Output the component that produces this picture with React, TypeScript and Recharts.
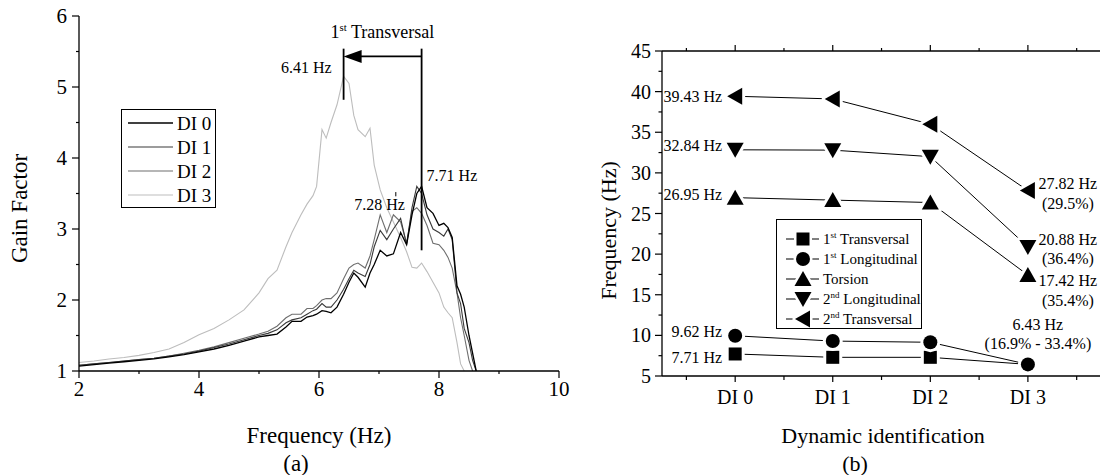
import React from 'react'
import {
  LineChart, Line, XAxis, YAxis, ReferenceLine, ReferenceDot, Legend, LabelList,
} from 'recharts'

const FONT = "'Liberation Serif', 'Times New Roman', serif"

// (a) gain factor curves
const freqs = [
  2.0, 2.25, 2.5, 2.75, 3.0, 3.25, 3.5, 3.75, 4.0, 4.25, 4.5, 4.75, 5.0,
  5.15, 5.3, 5.45, 5.55, 5.7, 5.8, 5.9, 5.96, 6.05, 6.12, 6.2, 6.3, 6.41,
  6.5, 6.58, 6.65, 6.77, 6.85, 6.92, 7.02, 7.13, 7.24, 7.36, 7.46, 7.55, 7.63,
  7.71, 7.8, 7.9, 8.0, 8.08, 8.15, 8.22, 8.3, 8.36, 8.42, 8.5, 8.56, 8.62,
]
const gainDI0 = [
  1.07, 1.09, 1.11, 1.13, 1.15, 1.17, 1.2, 1.23, 1.27, 1.31, 1.36, 1.42, 1.48,
  1.5, 1.52, 1.62, 1.7, 1.7, 1.76, 1.78, 1.8, 1.85, 1.84, 1.82, 1.9, 2.08,
  2.25, 2.38, 2.32, 2.18, 2.38, 2.5, 2.7, 2.62, 2.65, 2.95, 2.78, 3.2, 3.5,
  3.6, 3.3, 3.22, 3.05, 3.08, 3.02, 2.88, 2.2, 2.08, 1.9, 1.5, 1.25, 1.0,
]
const gainDI1 = [
  1.08, 1.1, 1.12, 1.14, 1.16, 1.18, 1.21, 1.24, 1.28, 1.33, 1.38, 1.44, 1.5,
  1.53, 1.58, 1.68, 1.72, 1.75, 1.8, 1.85, 1.87, 1.95, 1.9, 1.9, 2.0, 2.15,
  2.3, 2.42, 2.38, 2.33, 2.5, 2.75, 2.98, 2.85, 3.0, 3.15, 2.78, 3.3, 3.6,
  3.5, 3.2, 3.0, 2.95, 2.9, 3.0, 2.85, 2.1, 1.95, 1.6, 1.4, 1.15, 1.0,
]
const gainDI2 = [
  1.08, 1.1, 1.12, 1.14, 1.16, 1.18, 1.21, 1.25, 1.29, 1.34, 1.4, 1.46, 1.52,
  1.56, 1.63, 1.75, 1.8, 1.8, 1.88, 1.88, 1.92, 2.0, 2.02, 2.02, 2.1, 2.3,
  2.45, 2.5, 2.52, 2.45, 2.62, 2.85, 3.2, 2.95, 3.2, 3.1, 2.8, 3.25, 3.3,
  3.22, 3.05, 2.8, 2.78, 2.7, 2.6, 2.45, 2.1, 1.75, 1.5, 1.15, 1.0, null,
]
const gainDI3 = [
  1.12, 1.14, 1.17, 1.19, 1.22, 1.26, 1.31, 1.4, 1.51, 1.6, 1.72, 1.86, 2.1,
  2.3, 2.42, 2.75, 2.95, 3.2, 3.35, 3.47, 3.6, 4.4, 4.28, 4.5, 4.75, 5.15,
  5.05, 4.6, 4.4, 4.3, 4.42, 3.9, 3.55, 3.3, 3.1, 2.88, 2.68, 2.46, 2.45,
  2.52, 2.4, 2.25, 2.1, 1.9, 1.82, 1.75, 1.4, 1.1, 1.0, null, null, null,
]
const diNames = ['DI 0', 'DI 1', 'DI 2', 'DI 3']
const diColors = ['#000000', '#3a3a3a', '#6e6e6e', '#bdbdbd']
const gainXTicks = [2, 3, 4, 5, 6, 7, 8, 9, 10]
const gainYTicks = [1, 1.5, 2, 2.5, 3, 3.5, 4, 4.5, 5, 5.5, 6]

// (b) modal frequencies per identification
const stages = [0, 1, 2, 3]
const trans1 = [7.71, 7.3, 7.3, 6.43]
const long1 = [9.95, 9.3, 9.15, 6.43]
const torsion = [26.95, 26.65, 26.35, 17.42]
const long2 = [32.84, 32.8, 32.0, 20.88]
const trans2 = [39.43, 39.1, 36.0, 27.82]
const modeNames = ['1st Transversal', '1st Longitudinal', 'Torsion', '2nd Longitudinal', '2nd Transversal']
const stageTicks = [-0.5, 0, 0.5, 1, 1.5, 2, 2.5, 3, 3.5]
const freqTicks = [5, 7.5, 10, 12.5, 15, 17.5, 20, 22.5, 25, 27.5, 30, 32.5, 35, 37.5, 40, 42.5, 45]

const gainRows = freqs.map((f, i) => ({
  f, di0: gainDI0[i], di1: gainDI1[i], di2: gainDI2[i], di3: gainDI3[i],
}))
const modeRows = stages.map((s, i) => ({
  s, t1: trans1[i], l1: long1[i], tor: torsion[i], l2: long2[i], t2: trans2[i],
}))

const txt = { fill: '#000', style: { fontFamily: FONT } }

function GainXTick({ x, y, payload }: any) {
  const major = payload.value % 2 === 0
  return (
    <g>
      <line x1={x} y1={y} x2={x} y2={y + (major ? 7 : 3)} stroke="#000" strokeWidth={1.2} />
      {major && <text x={x} y={y + 25} textAnchor="middle" fontSize={21} {...txt}>{payload.value}</text>}
    </g>
  )
}

function GainYTick({ x, y, payload }: any) {
  const major = Number.isInteger(payload.value)
  return (
    <g>
      <line x1={x} y1={y} x2={x - (major ? 7 : 3)} y2={y} stroke="#000" strokeWidth={1.2} />
      {major && <text x={x - 12} y={y} dy="0.35em" textAnchor="end" fontSize={21} {...txt}>{payload.value}</text>}
    </g>
  )
}

function StageTick({ x, y, payload }: any) {
  const major = Number.isInteger(payload.value)
  return (
    <g>
      <line x1={x} y1={y} x2={x} y2={y + (major ? 6 : 4)} stroke="#000" strokeWidth={1.2} />
      {major && <text x={x} y={y + 28} textAnchor="middle" fontSize={20} {...txt}>{`DI ${payload.value}`}</text>}
    </g>
  )
}

function TopTick({ x, y, payload }: any) {
  const major = Number.isInteger(payload.value)
  return <line x1={x} y1={y} x2={x} y2={y - (major ? 6 : 3)} stroke="#000" strokeWidth={1.2} />
}

function FreqTick({ x, y, payload }: any) {
  const major = payload.value % 5 === 0
  return (
    <g>
      <line x1={x} y1={y} x2={x - (major ? 7 : 3.5)} y2={y} stroke="#000" strokeWidth={1.2} />
      {major && <text x={x - 11} y={y} dy="0.35em" textAnchor="end" fontSize={20} {...txt}>{payload.value}</text>}
    </g>
  )
}

// text with ordinal superscript, e.g. "1st Transversal"
function Ordinal({ label, x, y, size }: { label: string; x: number; y: number; size: number }) {
  const m = label.match(/^(\d)(st|nd|rd|th) (.*)$/)
  if (!m) return <text x={x} y={y} dy="0.35em" fontSize={size} {...txt}>{label}</text>
  const up = Math.round(size * 0.4)
  return (
    <text x={x} y={y} dy="0.35em" fontSize={size} {...txt}>
      {m[1]}
      <tspan dy={-up} fontSize={size * 0.6}>{m[2]}</tspan>
      <tspan dy={up}>{' ' + m[3]}</tspan>
    </text>
  )
}

function GainLegend({ payload }: any) {
  const items = [...(payload || [])].sort((a: any, b: any) => diNames.indexOf(a.value) - diNames.indexOf(b.value))
  return (
    <div style={{ width: 95, height: 99, border: '1.3px solid #000', background: '#fff', boxSizing: 'border-box' }}>
      <svg width={93} height={97}>
        {items.map((it: any, i: number) => (
          <g key={it.value}>
            <line x1={6} x2={51} y1={13 + i * 24} y2={13 + i * 24} stroke={it.color} strokeWidth={i === 0 ? 1.6 : 1.2} />
            <text x={55} y={13 + i * 24} dy="0.35em" fontSize={19} {...txt}>{it.value}</text>
          </g>
        ))}
      </svg>
    </div>
  )
}

function GainChart() {
  return (
    <LineChart width={580} height={475} data={gainRows} margin={{ top: 16, right: 21, bottom: 74, left: 19 }}>
      <XAxis
        type="number" dataKey="f" domain={[2, 10]} ticks={gainXTicks} interval={0}
        tick={<GainXTick />} tickSize={0} tickMargin={0} tickLine={false} height={30}
        axisLine={{ stroke: '#000', strokeWidth: 1.3 }} allowDataOverflow
        label={{
          content: ({ viewBox }: any) => (
            <g>
              <text x={viewBox.x + viewBox.width / 2} y={viewBox.y + 64} dy="0.35em" textAnchor="middle" fontSize={23} {...txt}>Frequency (Hz)</text>
              <text x={296} y={viewBox.y + 92} dy="0.35em" textAnchor="middle" fontSize={23} {...txt}>(a)</text>
            </g>
          ),
        }}
      />
      <YAxis
        type="number" domain={[1, 6]} ticks={gainYTicks} interval={0} width={60}
        tick={<GainYTick />} tickSize={0} tickMargin={0} tickLine={false}
        axisLine={{ stroke: '#000', strokeWidth: 1.3 }} allowDataOverflow
        label={{
          content: ({ viewBox }: any) => {
            const cx = viewBox.x + viewBox.width - 60
            const cy = viewBox.y + viewBox.height / 2 + 15
            return <text x={cx} y={cy} dy="0.35em" textAnchor="middle" fontSize={23} transform={`rotate(-90 ${cx} ${cy})`} {...txt}>Gain Factor</text>
          },
        }}
      />
      <Line dataKey="di3" name={diNames[3]} stroke={diColors[3]} strokeWidth={1.1} dot={false} isAnimationActive={false} />
      <Line dataKey="di2" name={diNames[2]} stroke={diColors[2]} strokeWidth={1.1} dot={false} isAnimationActive={false} />
      <Line dataKey="di1" name={diNames[1]} stroke={diColors[1]} strokeWidth={1.1} dot={false} isAnimationActive={false} />
      <Line dataKey="di0" name={diNames[0]} stroke={diColors[0]} strokeWidth={1.3} dot={false} isAnimationActive={false} />

      <ReferenceLine segment={[{ x: 6.41, y: 4.82 }, { x: 6.41, y: 5.54 }]} stroke="#000" strokeWidth={1.8} ifOverflow="visible" />
      <ReferenceLine segment={[{ x: 7.71, y: 2.7 }, { x: 7.71, y: 5.54 }]} stroke="#000" strokeWidth={1.8} ifOverflow="visible" />
      <ReferenceLine segment={[{ x: 6.6, y: 5.43 }, { x: 7.71, y: 5.43 }]} stroke="#000" strokeWidth={1.8} ifOverflow="visible" />
      <ReferenceLine segment={[{ x: 7.28, y: 3.46 }, { x: 7.28, y: 3.52 }]} stroke="#000" strokeWidth={1} ifOverflow="visible" />
      <ReferenceDot x={6.41} y={5.43} r={1} ifOverflow="visible"
        shape={(p: any) => <polygon points={`${p.cx},${p.cy} ${p.cx + 18},${p.cy - 6.5} ${p.cx + 18},${p.cy + 6.5}`} fill="#000" />} />
      <ReferenceDot x={6.41} y={5.78} r={1} ifOverflow="visible"
        shape={(p: any) => <Ordinal label="1st Transversal" x={p.cx - 13} y={p.cy} size={18} />} />
      <ReferenceDot x={6.41} y={5.28} r={1} ifOverflow="visible"
        shape={(p: any) => <text x={p.cx - 12} y={p.cy} dy="0.35em" textAnchor="end" fontSize={16} {...txt}>6.41 Hz</text>} />
      <ReferenceDot x={7.71} y={3.75} r={1} ifOverflow="visible"
        shape={(p: any) => <text x={p.cx + 5} y={p.cy} dy="0.35em" fontSize={16} {...txt}>7.71 Hz</text>} />
      <ReferenceDot x={7.28} y={3.34} r={1} ifOverflow="visible"
        shape={(p: any) => <text x={p.cx + 9} y={p.cy} dy="0.35em" textAnchor="end" fontSize={16} {...txt}>7.28 Hz</text>} />

      <Legend content={<GainLegend />} layout="vertical" align="center" verticalAlign="middle"
        wrapperStyle={{ left: 121, top: 109, width: 95, height: 99 }} />
    </LineChart>
  )
}

type Shape = 'square' | 'circle' | 'up' | 'down' | 'left'

function shapeEl(shape: Shape, cx: number, cy: number, fill: string, stroke: string, sw: number) {
  const common = { fill, stroke, strokeWidth: sw, strokeLinejoin: 'round' as const }
  switch (shape) {
    case 'square': return <rect x={cx - 6.5} y={cy - 6.5} width={13} height={13} {...common} />
    case 'circle': return <circle cx={cx} cy={cy} r={7} {...common} />
    case 'up': return <polygon points={`${cx},${cy - 8} ${cx + 8.5},${cy + 7} ${cx - 8.5},${cy + 7}`} {...common} />
    case 'down': return <polygon points={`${cx},${cy + 8} ${cx + 8.5},${cy - 7} ${cx - 8.5},${cy - 7}`} {...common} />
    default: return <polygon points={`${cx - 8},${cy} ${cx + 7},${cy - 8.5} ${cx + 7},${cy + 8.5}`} {...common} />
  }
}

function Marker({ shape, cx, cy }: { shape: Shape; cx: number; cy: number }) {
  return (
    <g>
      {shapeEl(shape, cx, cy, '#fff', '#fff', 6)}
      {shapeEl(shape, cx, cy, '#000', 'none', 0)}
    </g>
  )
}

const modeShapes: Shape[] = ['square', 'circle', 'up', 'down', 'left']

function modeLabel(left: string, leftDy: number, right: string[], rightDx: number, rightDys: number[]) {
  return (p: any) => {
    const { x, y, index } = p
    if (index === 0) {
      return <text x={x - 13} y={y + leftDy} dy="0.35em" textAnchor="end" fontSize={16} {...txt}>{left}</text>
    }
    if (index === 3 && right.length) {
      return (
        <g>
          {right.map((t, k) => (
            <text key={k} x={x + rightDx} y={y + rightDys[k]} dy="0.35em" textAnchor="middle" fontSize={16} {...txt}>{t}</text>
          ))}
        </g>
      )
    }
    return null
  }
}

function ModeLegend({ payload }: any) {
  const items = [...(payload || [])].sort((a: any, b: any) => modeNames.indexOf(a.value) - modeNames.indexOf(b.value))
  return (
    <div style={{ width: 146, height: 110, border: '1.3px solid #000', background: '#fff', boxSizing: 'border-box' }}>
      <svg width={144} height={108}>
        {items.map((it: any, i: number) => {
          const y = 19 + i * 20
          const s = modeShapes[modeNames.indexOf(it.value)]
          return (
            <g key={it.value}>
              <line x1={9} x2={42} y1={y} y2={y} stroke="#000" strokeWidth={1} />
              {shapeEl(s, 26, y, '#fff', '#fff', 5)}
              {shapeEl(s, 26, y, '#000', 'none', 0)}
              <Ordinal label={it.value} x={46} y={y} size={15} />
            </g>
          )
        })}
      </svg>
    </div>
  )
}

function ModeChart() {
  const series: { key: string; shape: Shape; label: any }[] = [
    { key: 't1', shape: 'square', label: modeLabel('7.71 Hz', 3, [], 0, []) },
    { key: 'l1', shape: 'circle', label: modeLabel('9.62 Hz', -4, ['6.43 Hz', '(16.9% - 33.4%)'], 10, [-40, -21]) },
    { key: 'tor', shape: 'up', label: modeLabel('26.95 Hz', -3, ['17.42 Hz', '(35.4%)'], 40, [5, 25]) },
    { key: 'l2', shape: 'down', label: modeLabel('32.84 Hz', -4, ['20.88 Hz', '(36.4%)'], 40, [-8, 11]) },
    { key: 't2', shape: 'left', label: modeLabel('39.43 Hz', 0, ['27.82 Hz', '(29.5%)'], 40, [-7, 13]) },
  ]
  return (
    <LineChart width={545} height={475} data={modeRows} margin={{ top: 21, right: 1, bottom: 69, left: 42 }}>
      <XAxis
        type="number" dataKey="s" domain={[-0.75, 3.78]} ticks={stageTicks} interval={0}
        tick={<StageTick />} tickSize={0} tickMargin={0} tickLine={false} height={30}
        axisLine={{ stroke: '#000', strokeWidth: 1.3 }} allowDataOverflow
        label={{
          content: ({ viewBox }: any) => (
            <g>
              <text x={viewBox.x + viewBox.width / 2} y={viewBox.y + 59} dy="0.35em" textAnchor="middle" fontSize={22} {...txt}>Dynamic identification</text>
              <text x={295} y={viewBox.y + 87} dy="0.35em" textAnchor="middle" fontSize={22} {...txt}>(b)</text>
            </g>
          ),
        }}
      />
      <XAxis
        xAxisId="top" orientation="top" type="number" dataKey="s" domain={[-0.75, 3.78]} ticks={stageTicks} interval={0}
        tick={<TopTick />} tickSize={0} tickMargin={0} tickLine={false} height={30}
        axisLine={{ stroke: '#000', strokeWidth: 1.3 }} allowDataOverflow
      />
      <YAxis
        type="number" domain={[5, 45]} ticks={freqTicks} interval={0} width={60}
        tick={<FreqTick />} tickSize={0} tickMargin={0} tickLine={false}
        axisLine={{ stroke: '#000', strokeWidth: 1.3 }} allowDataOverflow
        label={{
          content: ({ viewBox }: any) => {
            const cx = viewBox.x + viewBox.width - 54
            const cy = viewBox.y + viewBox.height / 2 + 17
            return <text x={cx} y={cy} dy="0.35em" textAnchor="middle" fontSize={22} transform={`rotate(-90 ${cx} ${cy})`} {...txt}>Frequency (Hz)</text>
          },
        }}
      />
      {series.map((s, i) => (
        <Line
          key={s.key} dataKey={s.key} name={modeNames[i]} stroke="#000" strokeWidth={1}
          isAnimationActive={false}
          dot={(p: any) => <Marker key={`${s.key}-${p.index}`} shape={s.shape} cx={p.cx} cy={p.cy} />}
          activeDot={false}
        >
          <LabelList dataKey={s.key} content={s.label} />
        </Line>
      ))}
      <Legend content={<ModeLegend />} layout="vertical" align="center" verticalAlign="middle"
        wrapperStyle={{ left: 216, top: 219, width: 146, height: 110 }} />
    </LineChart>
  )
}

export default function App() {
  return (
    <div style={{ position: 'absolute', left: 0, top: 0, width: 1100, height: 475, overflow: 'hidden', background: '#fff', fontFamily: FONT }}>
      <div style={{ position: 'absolute', left: 0, top: 0 }}><GainChart /></div>
      <div style={{ position: 'absolute', left: 560, top: 0 }}><ModeChart /></div>
    </div>
  )
}
